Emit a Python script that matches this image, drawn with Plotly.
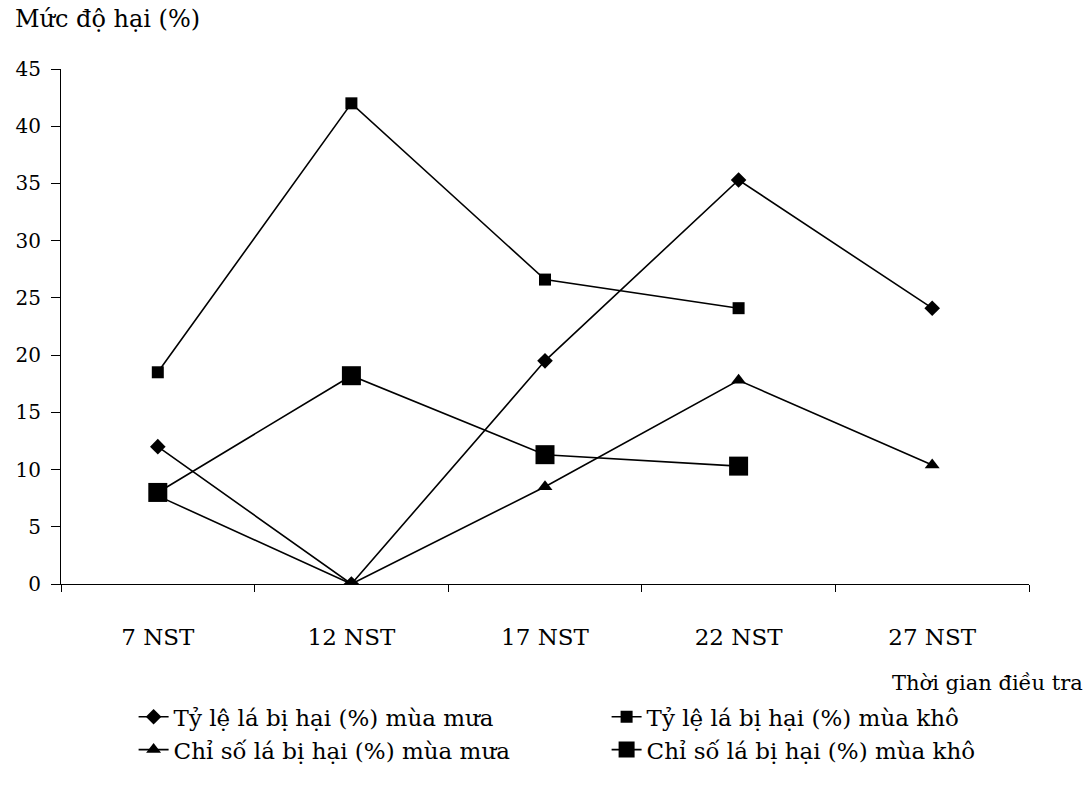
import plotly.graph_objects as go

# Survey times (days after transplanting)
categories = ["7 NST", "12 NST", "17 NST", "22 NST", "27 NST"]

# Damage levels (%)
ty_le_mua_mua = [12.0, 0.0, 19.5, 35.3, 24.1]
ty_le_mua_kho = [18.5, 42.0, 26.6, 24.1, None]
chi_so_mua_mua = [7.7, 0.0, 8.5, 17.8, 10.4]
chi_so_mua_kho = [8.0, 18.2, 11.3, 10.3, None]

series_names = [
    "Tỷ lệ lá bị hại (%) mùa mưa",
    "Tỷ lệ lá bị hại (%) mùa khô",
    "Chỉ số lá bị hại (%) mùa mưa",
    "Chỉ số lá bị hại (%) mùa khô",
]
y_ticks = [0, 5, 10, 15, 20, 25, 30, 35, 40, 45]

FONT = "DejaVu Serif"

fig = go.Figure()
styles = [
    (ty_le_mua_mua, "diamond", 12),
    (ty_le_mua_kho, "square", 12),
    (chi_so_mua_mua, "triangle-up", 13),
    (chi_so_mua_kho, "square", 19),
]
for name, (vals, sym, size) in zip(series_names, styles):
    fig.add_trace(go.Scatter(
        x=categories, y=vals, name=name, mode="lines+markers",
        line=dict(color="black", width=1.6),
        marker=dict(symbol=sym, size=size, color="black"),
        connectgaps=False,
    ))

fig.update_layout(
    width=1091, height=793,
    margin=dict(l=61, r=62, t=69, b=209, autoexpand=False),
    paper_bgcolor="white", plot_bgcolor="white",
    font=dict(family=FONT, size=22, color="black"),
    showlegend=True,
    legend=dict(
        orientation="h", x=0.075, xanchor="left", y=-0.216, yanchor="top",
        entrywidth=428, entrywidthmode="pixels",
        font=dict(family=FONT, size=23), tracegroupgap=0,
        itemsizing="trace", bgcolor="rgba(0,0,0,0)",
    ),
    xaxis=dict(
        type="category", categoryorder="array", categoryarray=categories,
        range=[-0.5, 4.5], showgrid=False, zeroline=False,
        showline=True, linecolor="black", linewidth=1.2,
        ticks="outside", tickson="boundaries", ticklen=7, tickcolor="black",
        ticklabelstandoff=32, tickfont=dict(family=FONT, size=23),
    ),
    yaxis=dict(
        range=[0, 45], tickvals=y_ticks, showgrid=False, zeroline=False,
        showline=True, linecolor="black", linewidth=1.2,
        ticks="outside", ticklen=9, tickcolor="black",
        ticklabelstandoff=6, tickfont=dict(family=FONT, size=20),
    ),
    annotations=[
        dict(text="Mức độ hại (%)", xref="paper", yref="paper",
             x=-0.05, y=1.0, xanchor="left", yanchor="bottom", yshift=34,
             showarrow=False, font=dict(family=FONT, size=24)),
        dict(text="Thời gian điều tra", xref="paper", yref="paper",
             x=1.0, y=0.0, xanchor="right", yanchor="middle", xshift=56, yshift=-99,
             showarrow=False, font=dict(family=FONT, size=21)),
    ],
)

fig.write_html("out.html")
